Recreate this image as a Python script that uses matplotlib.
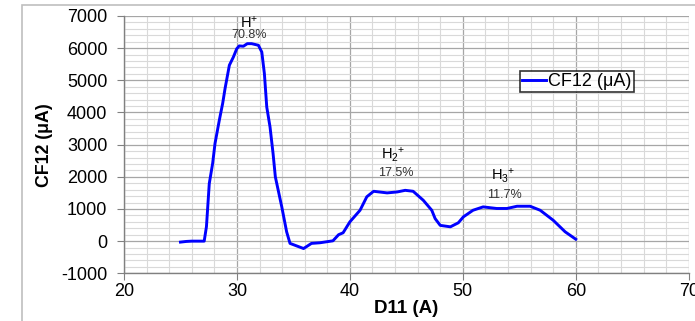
import matplotlib
matplotlib.use("Agg")
import matplotlib.pyplot as plt
from matplotlib.patches import Rectangle
from matplotlib.ticker import MultipleLocator

plt.rcParams['font.family'] = ['Liberation Sans', 'DejaVu Sans']
plt.rcParams['mathtext.fontset'] = 'custom'
plt.rcParams['mathtext.rm'] = 'Liberation Sans'
plt.rcParams['mathtext.it'] = 'Liberation Sans'
plt.rcParams['axes.unicode_minus'] = False

d11 = [25, 25.5, 26, 27.1, 27.3, 27.55, 27.85, 28.06, 28.44, 28.74, 28.95, 29.33,
       29.68, 29.98, 30.2, 30.57, 30.92, 31.3, 31.9, 32.2, 32.43, 32.64, 32.93,
       33.2, 33.4, 33.97, 34.4, 34.7, 35.0, 35.9, 36.6, 37.36, 38.5, 39.0, 39.4,
       40.0, 40.9, 41.5, 42.1, 43.3, 44.2, 44.9, 45.6, 46.5, 47.25, 47.55, 48.0,
       48.9, 49.6, 50.05, 50.9, 51.8, 53.0, 53.9, 54.8, 55.96, 56.85, 58.0, 59.06,
       60.0]
cf12 = [-30, -10, 0, 0, 450, 1790, 2420, 3040, 3760, 4290, 4750, 5470,
        5720, 5980, 6070, 6060, 6140, 6140, 6090, 5880, 5210, 4170, 3550,
        2720, 2000, 1065, 290, -70, -110, -230, -70, -50, 10, 200, 260,
        600, 960, 1380, 1550, 1500, 1530, 1580, 1550, 1270, 960, 700, 490,
        445, 570, 755, 960, 1065, 1015, 1015, 1085, 1085, 960, 650, 290,
        60]

peak_labels = ['H$^{+}$', 'H$_{2}$$^{+}$', 'H$_{3}$$^{+}$']
peak_pcts = ['70.8%', '17.5%', '11.7%']
label_pos = [(31.1, 6800), (43.8, 2680), (53.6, 2030)]
pct_pos = [(31.1, 6400), (44.1, 2110), (53.7, 1430)]

W, H = 695, 321
fig = plt.figure(figsize=(W / 100, H / 100), dpi=100)
fig.patches.append(Rectangle((22 / W, -0.2), 2, 1.2 - 5 / H, transform=fig.transFigure,
                             facecolor='white', edgecolor='#bfbfbf', lw=1.2, zorder=-5))
ax = fig.add_axes([124 / W, 1 - 273.3 / H, (688.7 - 124) / W, (273.3 - 16) / H])
ax.set_facecolor('none')
ax.set_zorder(2)

ax.plot(d11, cf12, color='#0000ff', lw=2.1, label='CF12 (μA)', zorder=3)

ax.set_xlim(20, 70)
ax.set_ylim(-1000, 7000)
ax.xaxis.set_major_locator(MultipleLocator(10))
ax.xaxis.set_minor_locator(MultipleLocator(2))
ax.yaxis.set_major_locator(MultipleLocator(1000))
ax.yaxis.set_minor_locator(MultipleLocator(200))
ax.grid(which='major', color='#a6a6a6', lw=0.9)
ax.grid(which='minor', color='#d9d9d9', lw=0.8)
ax.set_axisbelow(True)
for s in ['top', 'right']:
    ax.spines[s].set_visible(False)
for s in ['left', 'bottom']:
    ax.spines[s].set_color('#808080')
    ax.spines[s].set_linewidth(1.0)
ax.tick_params(which='major', length=5, color='#808080', labelsize=13, labelcolor='#000000')
ax.tick_params(which='minor', length=0)
ax.tick_params(axis='x', pad=2)
ax.tick_params(axis='y', pad=7)

ax.set_xlabel('D11 (A)', fontsize=13.5, fontweight='bold', labelpad=0)
ax.set_ylabel('CF12 (μA)', fontsize=12.8, fontweight='bold')
ax.yaxis.set_label_coords((53 - 124) / (688.7 - 124), 0.5)

for lab, (x, y) in zip(peak_labels, label_pos):
    ax.text(x, y, lab, ha='center', va='center', fontsize=10.5, color='#000000')
for lab, (x, y) in zip(peak_pcts, pct_pos):
    ax.text(x, y, lab, ha='center', va='center', fontsize=9, color='#333333')

leg = ax.legend(loc='upper left', bbox_to_anchor=((520 - 124) / (688.7 - 124), 1 - (71 - 16) / (273.3 - 16)),
                frameon=True, fancybox=False, shadow=False, fontsize=13,
                handlelength=1.3, handletextpad=0.15, borderpad=0.12, borderaxespad=0)
leg.get_frame().set_edgecolor('#000000')
leg.get_frame().set_linewidth(1.2)

fig.savefig('out.png', dpi=100)
